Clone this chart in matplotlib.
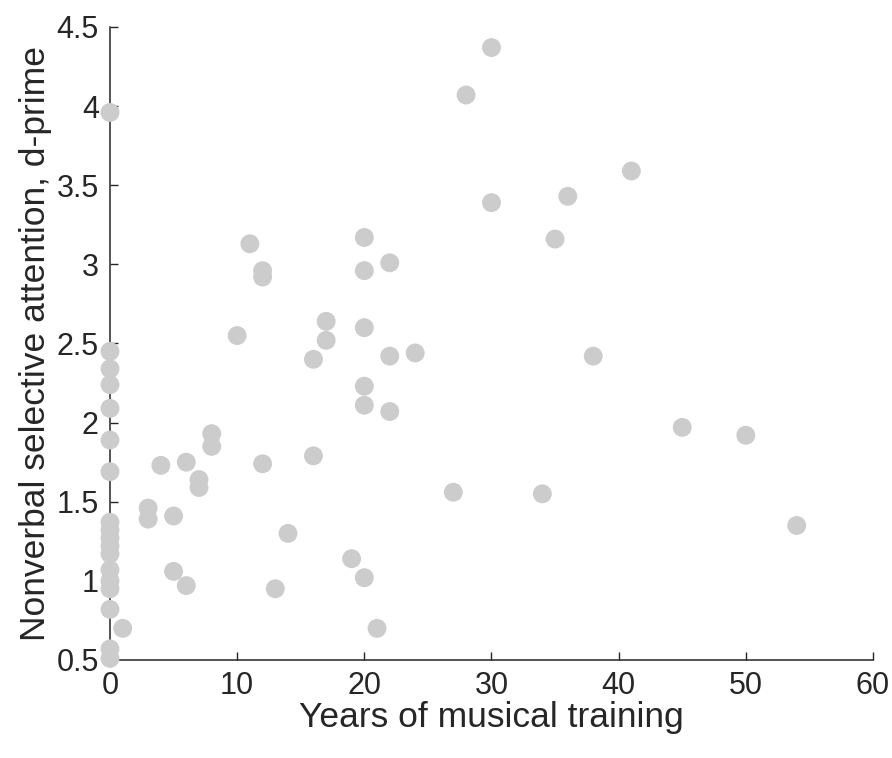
import matplotlib.pyplot as plt

# years of training vs. d-prime
years = [0, 0, 0, 0, 0, 0, 0, 0, 0, 0, 0, 0, 0, 0, 0, 0, 0, 0,
         1, 3, 3, 4, 5, 5, 6, 6, 7, 7, 8, 8,
         10, 11, 12, 12, 12, 13, 14, 16, 16, 17, 17, 19,
         20, 20, 20, 20, 20, 20, 21, 22, 22, 22, 24,
         27, 28, 30, 30, 34, 35, 36, 38, 41, 45, 50, 54]
dprime = [3.96, 2.45, 2.34, 2.24, 2.09, 1.89, 1.69, 1.37, 1.32, 1.27, 1.22, 1.17,
          1.07, 1.00, 0.95, 0.82, 0.57, 0.51,
          0.70, 1.46, 1.39, 1.73, 1.41, 1.06, 1.75, 0.97, 1.64, 1.59, 1.93, 1.85,
          2.55, 3.13, 2.96, 2.92, 1.74, 0.95, 1.30, 2.40, 1.79, 2.64, 2.52, 1.14,
          3.17, 2.96, 2.60, 2.23, 2.11, 1.02, 0.70, 3.01, 2.42, 2.07, 2.44,
          1.56, 4.07, 4.37, 3.39, 1.55, 3.16, 3.43, 2.42, 3.59, 1.97, 1.92, 1.35]

dark = '#262626'
plt.rcParams['font.family'] = ['Liberation Sans', 'DejaVu Sans']

fig = plt.figure(figsize=(8.92, 7.58), dpi=100)
ax = fig.add_axes([0.1233, 0.1293, 0.8554, 0.8351])
ax.scatter(years, dprime, s=185, color='#cccccc', edgecolors='none', clip_on=False, zorder=3)

ax.set_xlim(0, 60)
ax.set_ylim(0.5, 4.5)
ax.set_xticks(range(0, 61, 10))
ax.set_yticks([0.5, 1, 1.5, 2, 2.5, 3, 3.5, 4, 4.5])
ax.set_yticklabels(['0.5', '1', '1.5', '2', '2.5', '3', '3.5', '4', '4.5'])
for side in ['top', 'right']:
    ax.spines[side].set_visible(False)
for side in ['left', 'bottom']:
    ax.spines[side].set_color(dark)
    ax.spines[side].set_linewidth(1.1)
ax.tick_params(direction='in', length=6, width=1, colors=dark, labelsize=22, pad=8)
ax.set_xlabel('Years of musical training', fontsize=25.5, color=dark, labelpad=0)
ax.set_ylabel('Nonverbal selective attention, d-prime', fontsize=25.5, color=dark, labelpad=3)

plt.savefig('out.png', dpi=100)
